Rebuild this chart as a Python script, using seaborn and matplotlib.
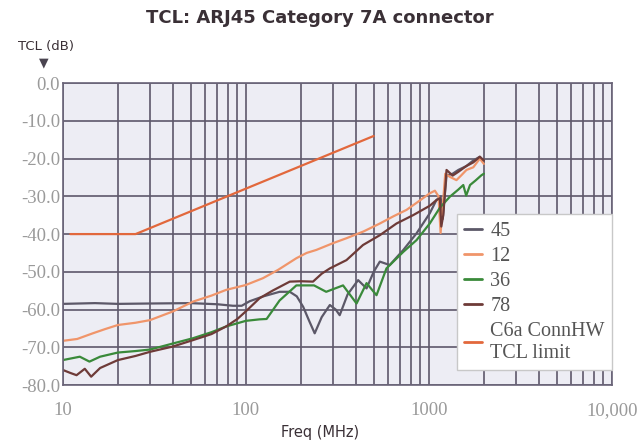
import numpy as np
import pandas as pd
import seaborn as sns
import matplotlib.pyplot as plt
from matplotlib.ticker import FixedLocator, FixedFormatter, LogLocator, NullFormatter

# --- data (freq in MHz, TCL in dB) ---
f_45 = [10, 15, 20, 30, 50, 70, 85, 95, 105, 125, 153, 174, 190, 206, 222, 238, 260,
        288, 310, 326, 360, 411, 457, 500, 540, 612, 726, 857, 1012, 1100, 1160, 1190,
        1250, 1350, 1450, 1600, 1750, 1900, 2000]
tcl_45 = [-58.5, -58.3, -58.5, -58.4, -58.3, -58.6, -59.0, -59.0, -57.8, -56.5, -55.3,
          -55.3, -56.5, -59.3, -63.0, -66.3, -62.0, -58.8, -60.0, -61.5, -56.0, -52.2,
          -54.4, -50.0, -47.3, -48.2, -44.2, -39.8, -34.5, -31.0, -30.0, -36.0, -24.5,
          -24.0, -23.0, -22.0, -20.5, -19.5, -21.0]

f_12 = [10, 12, 14.6, 17, 20, 25, 30, 40, 51.5, 65, 78, 100, 124, 150, 189, 215, 243,
        300, 355, 440, 540, 640, 755, 870, 1012, 1080, 1130, 1160, 1190, 1230, 1300,
        1416, 1500, 1606, 1750, 1900, 2000]
tcl_12 = [-68.3, -67.8, -66.3, -65.2, -64.1, -63.5, -62.8, -60.5, -57.9, -56.3, -54.8,
          -53.5, -51.7, -49.5, -46.4, -45.0, -44.2, -42.4, -41.1, -39.3, -37.2, -35.3,
          -33.6, -31.5, -29.2, -28.5, -30.0, -39.7, -33.0, -24.0, -24.8, -25.7, -24.5,
          -23.0, -22.3, -20.0, -21.4]

f_36 = [10, 11, 12.4, 14, 16, 20, 25, 30, 40, 51.5, 65, 78, 100, 119, 130, 153, 189,
        236, 275, 340, 403, 457, 518, 587, 726, 857, 1012, 1150, 1303, 1450, 1543, 1600,
        1680, 1800, 1940, 2000]
tcl_36 = [-73.4, -73.0, -72.5, -73.8, -72.5, -71.4, -71.0, -70.6, -69.0, -67.6, -66.0,
          -64.5, -63.0, -62.6, -62.5, -57.6, -53.6, -53.6, -55.3, -53.6, -58.4, -53.0,
          -56.2, -49.1, -44.7, -41.6, -37.2, -33.0, -30.1, -28.2, -27.0, -29.8, -27.0,
          -25.8, -24.4, -24.0]

f_78 = [10, 11, 11.9, 13.2, 14.3, 16, 20, 25, 30, 40, 51.5, 65, 78, 90, 100, 119, 140,
        174, 200, 233, 260, 288, 355, 437, 540, 666, 820, 1012, 1100, 1150, 1170, 1200,
        1250, 1350, 1450, 1600, 1750, 1900, 2000]
tcl_78 = [-76.0, -76.8, -77.4, -75.7, -77.8, -75.5, -73.4, -72.3, -71.2, -69.8, -68.1,
          -66.5, -64.5, -62.5, -60.5, -57.0, -55.0, -52.6, -52.5, -52.6, -50.5, -49.1,
          -46.9, -42.9, -40.3, -37.2, -35.0, -32.5, -31.0, -30.5, -38.0, -35.0, -23.0,
          -24.5, -23.5, -22.0, -21.0, -19.5, -20.5]

f_lim = [11, 25, 500]
tcl_lim = [-40, -40, -14]

series = ["45", "12", "36", "78", "C6a ConnHW\nTCL limit"]
colors = ["#5c5868", "#f0956a", "#3a8a3a", "#6e3b38", "#e2683c"]

frames = []
for name, f, v in zip(series, [f_45, f_12, f_36, f_78, f_lim],
                      [tcl_45, tcl_12, tcl_36, tcl_78, tcl_lim]):
    frames.append(pd.DataFrame({"freq": f, "tcl": v, "pair": name}))
df = pd.concat(frames, ignore_index=True)

sns.set_theme(style="white")
plt.rcParams["font.family"] = ["DejaVu Sans"]

fig = plt.figure(figsize=(6.4, 4.4), dpi=100)
ax = fig.add_axes([0.098, 0.125, 0.858, 0.686])
ax.set_facecolor("#ededf4")

sns.lineplot(data=df, x="freq", y="tcl", hue="pair", hue_order=series,
             palette=colors, estimator=None, sort=True, linewidth=1.6, ax=ax)

ax.set_xscale("log")
ax.set_xlim(10, 10000)
ax.set_ylim(-80, 0)

ax.xaxis.set_major_locator(FixedLocator([10, 100, 1000, 10000]))
ax.xaxis.set_major_formatter(FixedFormatter(["10", "100", "1000", "10,000"]))
ax.xaxis.set_minor_locator(LogLocator(base=10, subs=np.arange(2, 10)))
ax.xaxis.set_minor_formatter(NullFormatter())
yt = np.arange(-80, 1, 10)
ax.set_yticks(yt)
ax.set_yticklabels([f"{v:.1f}" for v in yt])

ax.grid(True, which="both", axis="x", color="#5d586b", linewidth=1.2)
ax.grid(True, which="major", axis="y", color="#5d586b", linewidth=1.2)
ax.set_axisbelow(True)
ax.tick_params(axis="both", which="both", length=0,
               labelsize=13.5, labelcolor="#9a9a9a")
ax.tick_params(axis="x", pad=12)
ax.tick_params(axis="y", pad=2)
for lab in ax.get_xticklabels() + ax.get_yticklabels():
    lab.set_family("Liberation Serif")
for s in ax.spines.values():
    s.set_color("#6a6478")
    s.set_linewidth(1.2)

ax.set_xlabel("")
ax.set_ylabel("")

leg = ax.legend(loc="lower right", bbox_to_anchor=(1.0, 0.05), borderaxespad=0,
                frameon=True, fancybox=False, framealpha=1, edgecolor="#c8c8c8",
                prop={"family": "Liberation Serif", "size": 14.5},
                handlelength=0.9, handletextpad=0.4, labelspacing=0.3,
                borderpad=0.35)
for t in leg.get_texts():
    t.set_color("#555555")
for h in leg.get_lines():
    h.set_linewidth(2)

fig.text(0.5, 0.958, "TCL: ARJ45 Category 7A connector", ha="center", va="center",
         fontsize=13, fontweight="bold", color="#3a3036")
fig.text(0.5, 0.018, "Freq (MHz)", ha="center", va="center",
         fontsize=10.5, color="#3a3036")
fig.text(0.072, 0.895, "TCL (dB)", ha="center", va="center",
         fontsize=9.5, color="#3a3036")
fig.text(0.068, 0.857, "\u25bc", ha="center", va="center",
         fontsize=9, color="#4a4450", transform=fig.transFigure)

fig.savefig("out.png", dpi=100)
